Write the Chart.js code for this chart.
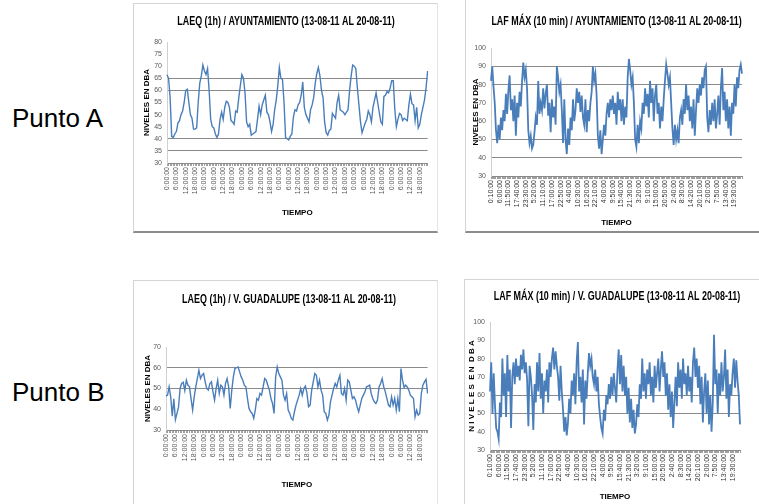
<!DOCTYPE html>
<html lang="es">
<head>
<meta charset="utf-8">
<title>Niveles de ruido</title>
<script src="https://cdn.jsdelivr.net/npm/chart.js@4.4.1/dist/chart.umd.min.js"></script>
<style>
  body { margin: 0; width: 759px; height: 504px; background: #fff; overflow: hidden; position: relative; font-family: "Liberation Sans", Arial, sans-serif; }
  .punto { position: absolute; left: 12px; font-size: 26px; color: #000; line-height: 30px; }
  .card { position: absolute; border-left: 1px solid #d4d4d4; border-top: 1px solid #d4d4d4; border-right: 1px solid #e4e4e4; border-bottom: 2px solid #8c8c8c; background: #fff; }
  .card canvas { display: block; }
</style>
</head>
<body>

<div class="punto" style="top:103px">Punto A</div>
<div class="punto" style="top:377px">Punto B</div>

<div class="card" style="left:133px; top:3px; width:303px; height:227px;"><canvas id="c1" width="303" height="227"></canvas></div>
<div class="card" style="left:465px; top:-1px; width:301px; height:231px; border-right:none;"><canvas id="c2" width="301" height="231"></canvas></div>
<div class="card" style="left:133px; top:280px; width:303px; height:230px;"><canvas id="c3" width="303" height="230"></canvas></div>
<div class="card" style="left:464px; top:279px; width:304px; height:230px; border-right:none;"><canvas id="c4" width="304" height="230"></canvas></div>

<script>
// etiquetas del eje X
const hourTicks = [];
for (let d = 0; d < 7; d++) hourTicks.push('0:00:00', '6:00:00', '12:00:00', '18:00:00');

const tenMinTicks = ['0:10:00','6:00:00','11:50:00','17:40:00','23:30:00','5:20:00','11:10:00','17:00:00',
  '22:50:00','4:40:00','10:30:00','16:20:00','22:10:00','4:00:00','9:50:00','15:40:00','21:30:00',
  '3:20:00','9:10:00','15:00:00','20:50:00','2:40:00','8:30:00','14:20:00','20:10:00','2:00:00',
  '7:50:00','13:40:00','19:30:00'];

// LAEQ 1h - Ayuntamiento (168 horas)
const laeqAyto = [
  66.5,65,57,41,40.5,42,43,46.5,47.5,
  50,51.5,55,60,60.5,55,50,48.5,44,
  44,44.5,55,63,66,70.5,68,66.5,69,60,
  48,45,44.5,42,40.5,42,48,51,48,
  53,55.5,55,53,47.5,47,46,51.5,51,
  57,62,66.5,65,59,47,45,46,41.5,42,
  42.5,43,48,53.5,50,54,56,58,51,
  50,47,43,46,52,56,62,69.5,65,64.5,
  55,40.5,40,39.5,41,42,49,52,51.5,
  54,55,58,63.5,53,50,48.5,47,52,54,
  57,63,67,69.5,66,60,57,47,42.5,41.5,
  43.5,44,50.5,49.5,48.5,55,58,52,51.5,
  51,50,51,52,60,66,70.5,70,69,
  61,54,47,42.5,44.5,46.5,48,51.5,50,47,
  53,56,59,55,51,47,46,57.5,58,59.5,
  59,61,64,64,52,45,48,50.5,50,
  47.5,48.5,48,47.5,54,58.5,54.5,54,
  47.5,53,44.5,46,50,53,56,61,68
];

// LAF max 10 min - Ayuntamiento (1 valor cada 50 min)
const lafAyto = [
  82,90,79,70,55,48,58,  50,62,55,66,60,75,64,  77,85,66,72,60,74,52,  70,62,76,68,82,92,84,
  88,78,55,48,52,45,47,  54,62,58,82,64,70,66,  78,67,75,80,63,70,54,  72,62,68,58,90,84,76,
  80,66,48,72,50,42,56,  47,62,55,72,60,66,78,  70,76,65,74,62,58,72,  54,66,60,70,76,90,82,
  86,74,52,45,55,42,50,  58,52,64,70,62,72,66,  74,64,70,58,76,66,72,  60,72,58,68,62,84,94,
  88,80,84,70,50,46,58,  48,60,56,70,64,78,68,  75,62,82,70,78,60,74,  80,64,70,56,68,60,72,
  82,91,86,80,84,70,56,  47,58,50,55,48,62,66,  58,72,64,80,66,74,60,  68,56,72,52,66,78,70,
  80,74,84,78,88,90,62,  54,66,58,70,60,72,56,  64,74,58,78,89,66,76,  60,72,56,68,52,70,64,
  80,68,84,78,88,91,86
];

// LAEQ 1h - V. Guadalupe (168 horas)
const laeqGuad = [
  46.3,46.8,50.8,46,36.7,45,35,38,41,50,52.4,53,49,54,51.6,50.8,45,39.6,46,50.8,
  54.8,58.8,54.8,56.4,57.2,53.2,50,49.2,52.4,53.2,48.4,44.4,50,54,47.6,51.6,50.8,46.8,52.4,54.8,
  50.8,40.4,49.2,55.6,59.6,60,60.4,58,55.6,54,51.6,50.8,45.2,40.4,38.8,38,35.6,39.6,45.2,44.4,
  47.6,46.8,50.8,54.8,54,51.6,49.2,45.2,42.8,38,55.6,60.4,57.2,55.6,54,46.8,44.4,47.6,39.6,38,
  35.6,34.8,38.8,42,44.4,46.8,50,46.8,50,51.2,47.6,41.2,42,49.2,53.2,57.2,56.4,50.8,54,49.2,
  46.8,38.8,38,34.8,37.2,43.6,46.8,50,52.4,50.8,54,56.4,47.6,46.8,50,44.4,54,53.2,49.2,45.2,
  46,44.4,41.2,38.8,42,45.2,46.8,48.4,50.8,51.2,51.6,47.6,45.2,43.6,42.8,44.4,50.8,52.4,54.8,50.8,
  48.4,45.2,42,41.2,46,42,45.2,39.6,45.2,38.8,59.6,54,50.5,51.6,50.8,49.2,46.8,46,45.2,36.4,
  39.6,37.2,38,47.6,51.6,53.2,54.4,47.6
];

// LAF max 10 min - V. Guadalupe (1 valor cada 50 min)
const lafGuad = [
  62,78,50,72,55,42,40,  36,56,48,80,60,72,48,  82,62,74,42,70,78,66,  80,70,76,68,82,74,85,
  72,78,68,43,76,70,60,  41,66,56,78,62,83,58,  72,50,68,62,74,56,78,  70,80,86,74,84,76,70,
  57,76,62,52,40,48,38,  45,58,50,68,60,72,55,  78,89,62,70,56,74,44,  68,58,72,83,76,80,70,
  66,74,62,70,55,48,42,  39,52,46,60,55,66,58,  70,60,72,64,56,74,85,  66,82,62,76,60,70,50,
  64,45,58,42,52,39,44,  55,48,66,58,80,62,72,  58,74,66,78,60,70,56,  76,64,72,80,62,74,84,
  70,78,60,72,52,66,48,  62,42,56,70,54,78,64,  74,58,80,66,72,60,76,  62,70,56,78,86,70,80,
  64,76,55,70,45,62,72,  50,68,44,60,40,56,93,  66,74,50,72,60,78,62,  70,85,58,74,48,66,60,
  72,80,64,79,68,60,44
];

const lineColor = '#4a7ebb';
const gridColor = '#8a8a8a';
const fam = "'Liberation Sans', Arial, sans-serif";

// titulo estrecho (tipo Calibri) dibujado sobre el canvas
const condTitle = {
  id: 'condTitle',
  afterDraw(chart, args, opts) {
    const ctx = chart.ctx;
    ctx.save();
    ctx.font = 'bold 12px ' + fam;
    ctx.fillStyle = '#000';
    ctx.textAlign = 'center';
    ctx.textBaseline = 'middle';
    ctx.translate(opts.x, opts.y);
    ctx.scale(0.745, 1);
    ctx.fillText(opts.text, 0, 0);
    ctx.restore();
  }
};

function makeChart(id, cfg) {
  const labels = cfg.data.map((v, i) => i % cfg.every === 0 ? cfg.ticks[i / cfg.every] : '');
  return new Chart(document.getElementById(id), {
    type: 'line',
    data: {
      labels: labels,
      datasets: [{
        data: cfg.data,
        borderColor: lineColor,
        borderWidth: cfg.lw,
        pointRadius: 0,
        tension: 0,
        fill: false
      }]
    },
    plugins: [condTitle],
    options: {
      responsive: false,
      animation: false,
      events: [],
      layout: { padding: { left: 0, right: cfg.padRight, top: cfg.plotTop, bottom: 0 } },
      plugins: {
        legend: { display: false },
        tooltip: { enabled: false },
        title: { display: false },
        condTitle: { text: cfg.title, x: cfg.titleX, y: cfg.titleY }
      },
      scales: {
        x: {
          afterFit: (s) => { s.height = cfg.xHeight; },
          grid: { display: true, drawOnChartArea: false, drawTicks: true, tickLength: 3, color: '#a0a0a0' },
          border: { display: true, color: '#8a8a8a' },
          ticks: {
            autoSkip: false, maxRotation: 90, minRotation: 90, padding: 1,
            color: cfg.xTickColor, font: { family: fam, size: 7 }
          },
          title: {
            display: true, text: 'TIEMPO', color: '#000',
            font: { family: fam, size: 8, weight: 'bold' },
            padding: { top: 0, bottom: cfg.xTitlePad }
          }
        },
        y: {
          min: cfg.min, max: cfg.max,
          afterFit: (s) => { s.width = cfg.yWidth; },
          grid: {
            drawTicks: false,
            color: (ctx) => cfg.lines.includes(ctx.tick.value) ? gridColor : 'rgba(0,0,0,0)'
          },
          border: { display: true, color: '#d0d0d0' },
          ticks: { stepSize: cfg.step, padding: 5, color: '#595959', font: { family: fam, size: 7 } },
          title: {
            display: true, text: cfg.yTitle, color: '#000',
            font: { family: fam, size: 8, weight: 'bold' },
            padding: { top: cfg.yTitlePad, bottom: 0 }
          }
        }
      }
    }
  });
}

makeChart('c1', {
  data: laeqAyto, ticks: hourTicks, every: 6, lw: 1.4, xTickColor: '#595959',
  title: 'LAEQ (1h) / AYUNTAMIENTO (13-08-11 AL 20-08-11)', titleX: 152, titleY: 18,
  plotTop: 38, padRight: 5,
  xHeight: 68, xTitlePad: 13, yWidth: 33, yTitlePad: 8.2,
  min: 30, max: 80, step: 5, lines: [65, 60, 40, 35], yTitle: 'NIVELES EN DBA'
});

makeChart('c2', {
  data: lafAyto, ticks: tenMinTicks, every: 7, lw: 1.8, xTickColor: '#333',
  title: 'LAF MÁX (10 min) / AYUNTAMIENTO (13-08-11 AL 20-08-11)', titleX: 150.5, titleY: 22,
  plotTop: 48, padRight: 25,
  xHeight: 55, xTitlePad: 3.5, yWidth: 25, yTitlePad: 5.2,
  min: 30, max: 100, step: 10, lines: [90, 80, 50, 40], yTitle: 'NIVELES EN DBA'
});

makeChart('c3', {
  data: laeqGuad, ticks: hourTicks, every: 6, lw: 1.4, xTickColor: '#595959',
  title: 'LAEQ (1h) / V. GUADALUPE (13-08-11 AL 20-08-11)', titleX: 155, titleY: 19,
  plotTop: 66, padRight: 7,
  xHeight: 81, xTitlePad: 21, yWidth: 32, yTitlePad: 9.2,
  min: 30, max: 70, step: 10, lines: [60, 50], yTitle: 'NIVELES EN DBA'
});

makeChart('c4', {
  data: lafGuad, ticks: tenMinTicks, every: 7, lw: 1.8, xTickColor: '#333',
  title: 'LAF MÁX (10 min) / V. GUADALUPE (13-08-11 AL 20-08-11)', titleX: 152, titleY: 17,
  plotTop: 42, padRight: 29,
  xHeight: 60, xTitlePad: 8, yWidth: 25, yTitlePad: 2.2,
  min: 30, max: 100, step: 10, lines: [60, 50], yTitle: 'N I V E L E S  E N  D B A'
});
</script>
</body>
</html>
